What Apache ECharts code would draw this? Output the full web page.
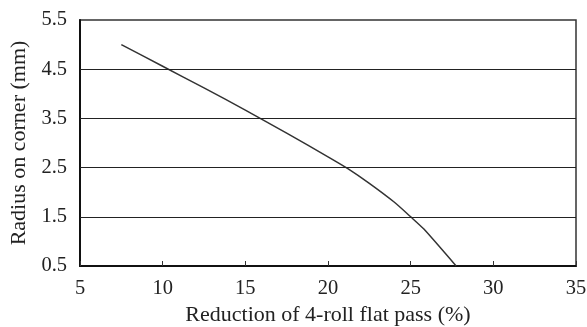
<!DOCTYPE html>
<html><head><meta charset="utf-8">
<script src="https://cdn.jsdelivr.net/npm/echarts@6/dist/echarts.min.js"></script>
<style>html,body{margin:0;padding:0;background:#fff}#c{width:587px;height:327px}</style>
</head><body><div id="c"></div>
<script>
var reduction = [7.5, 10, 12.5, 15, 17.5, 20, 21.2, 22.5, 24, 25, 25.8, 27.75];
var radius = [5.0, 4.56, 4.12, 3.67, 3.2, 2.72, 2.48, 2.18, 1.8, 1.5, 1.25, 0.5];
var yTickLabels = [0.5, 1.5, 2.5, 3.5, 4.5, 5.5];
var gridLines = [1.5, 2.5, 3.5, 4.5];
var xTickLabels = [5, 10, 15, 20, 25, 30, 35];

var font = '"Liberation Serif", "Times New Roman", serif';
var chart = echarts.init(document.getElementById('c'));
chart.setOption({
  animation: false,
  grid: {left: 80, top: 20, right: 11, bottom: 61, show: true, borderColor: '#333', borderWidth: 1.5,
         containLabel: false, outerBoundsMode: 'none'},
  xAxis: {
    type: 'value', min: 5, max: 35, interval: 5,
    name: 'Reduction of 4-roll flat pass (%)', nameLocation: 'middle', nameGap: 34,
    nameTextStyle: {fontFamily: font, fontSize: 22, color: '#222'},
    axisLine: {show: true, lineStyle: {color: '#111', width: 2}},
    axisTick: {show: true, inside: true, length: 5, lineStyle: {color: '#333'}},
    axisLabel: {fontFamily: font, fontSize: 20.5, color: '#222', margin: 12,
      formatter: function (v) { return xTickLabels.indexOf(v) >= 0 ? String(v) : ''; }},
    splitLine: {show: false}
  },
  yAxis: {
    type: 'value', min: 0.5, max: 5.5, interval: 0.5,
    name: 'Radius on corner (mm)', nameLocation: 'middle', nameGap: 47, nameRotate: 90,
    nameTextStyle: {fontFamily: font, fontSize: 22, color: '#222'},
    axisLine: {show: true, lineStyle: {color: '#111', width: 2}},
    axisTick: {show: false},
    axisLabel: {fontFamily: font, fontSize: 20.5, color: '#222', margin: 13,
      formatter: function (v) {
        for (var i = 0; i < yTickLabels.length; i++) if (Math.abs(yTickLabels[i] - v) < 1e-6) return v.toFixed(1);
        return '';
      }},
    splitLine: {show: false}
  },
  series: [{
    type: 'line',
    data: reduction.map(function (x, i) { return [x, radius[i]]; }),
    showSymbol: false, symbol: 'none', smooth: 0.2,
    lineStyle: {color: '#333', width: 1.5},
    markLine: {
      silent: true, symbol: 'none', label: {show: false},
      lineStyle: {color: '#222', width: 1, type: 'solid'},
      data: gridLines.map(function (v) { return {yAxis: v}; })
    }
  }]
});
</script></body></html>
